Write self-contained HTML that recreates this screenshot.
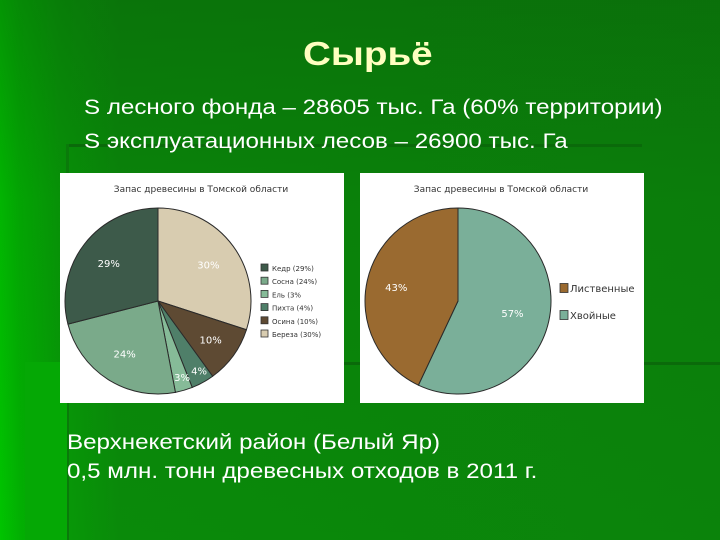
<!DOCTYPE html>
<html><head><meta charset="utf-8"><style>
html,body{margin:0;padding:0}
body{width:720px;height:540px;position:relative;overflow:hidden;font-family:"Liberation Sans","DejaVu Sans",sans-serif;
background:linear-gradient(90deg,#00c400 0px,#02b002 20px,#079a07 60px,#0a8a0a 120px,#0b830b 720px);}
.tint{position:absolute;left:0;top:0;width:720px;height:540px;background:linear-gradient(180deg,rgba(10,90,10,0.45) 0px,rgba(10,90,10,0.15) 200px,rgba(10,90,10,0) 540px)}
.t{position:absolute;white-space:nowrap;color:#fff;transform-origin:0 0}
.s{font-size:21px;transform:scaleX(1.15)}
</style></head><body>
<div class="tint"></div>
<div style="position:absolute;left:67px;top:144px;width:575px;height:3px;background:#0a6a0a"></div>
<div style="position:absolute;left:66px;top:144px;width:3px;height:396px;background:#0a7a0a"></div>
<div style="position:absolute;left:25px;top:362px;width:695px;height:3px;background:#0a6a0a"></div>
<div style="position:absolute;left:25px;top:362px;width:42px;height:178px;background:#05a805"></div>
<div class="t" style="left:303px;top:35px;font-size:33px;font-weight:bold;color:#ffffc0;transform:scaleX(1.17)">Сырьё</div>
<div class="t s" style="left:84px;top:96px">S лесного фонда – 28605 тыс. Га (60% территории)</div>
<div class="t s" style="left:84px;top:130px">S эксплуатационных лесов – 26900 тыс. Га</div>
<div class="t s" style="left:67px;top:431px">Верхнекетский район (Белый Яр)</div>
<div class="t s" style="left:67px;top:460px">0,5 млн. тонн древесных отходов в 2011 г.</div>

<svg id="c" width="720" height="540" style="position:absolute;left:0;top:0">
<rect x="60" y="173" width="284" height="230" fill="#fff"/>
<rect x="360" y="173" width="284" height="230" fill="#fff"/>
<text x="201" y="192" font-size="9" text-anchor="middle" fill="#333" font-family="DejaVu Sans, sans-serif">Запас древесины в Томской области</text>
<text x="501" y="192" font-size="9" text-anchor="middle" fill="#333" font-family="DejaVu Sans, sans-serif">Запас древесины в Томской области</text>
</svg>
<script>
const cats1=["Береза","Осина","Пихта","Ель","Сосна","Кедр"];
const vals1=[30,10,4,3,24,29];
const legend1=["Кедр (29%)","Сосна (24%)","Ель (3%","Пихта (4%)","Осина (10%)","Береза (30%)"];
const cats2=["Хвойные","Лиственные"];
const vals2=[57,43];
const legend2=["Лиственные","Хвойные"];
const NS="http://www.w3.org/2000/svg";
const svg=document.getElementById('c');
function mk(t,a){const e=document.createElementNS(NS,t);for(const k in a)e.setAttribute(k,a[k]);svg.appendChild(e);return e;}
function pie(cx,cy,r,vals,cols,names,labelR,labelOff){
  const tot=vals.reduce((a,b)=>a+b,0);let a0=0;
  vals.forEach((v,i)=>{
    const a1=a0+v/tot*2*Math.PI;
    const p=(a)=>[cx+r*Math.sin(a),cy-r*Math.cos(a)];
    const [x0,y0]=p(a0),[x1,y1]=p(a1);
    const large=(a1-a0)>Math.PI?1:0;
    const el=mk('path',{d:`M${cx},${cy}L${x0},${y0}A${r},${r} 0 ${large} 1 ${x1},${y1}Z`,fill:cols[i],stroke:'#2a2a2a','stroke-width':1});
    
    
    const am=(a0+a1)/2;const lr=r*(labelR[i]||0.65);
    const t=mk('text',{x:cx+lr*Math.sin(am)+(labelOff[i]||0),y:cy-lr*Math.cos(am)+4,'font-size':10,fill:'#fff','text-anchor':'middle','font-family':'DejaVu Sans, sans-serif'});
    t.textContent=Math.round(v/tot*100)+'%';
    
    
    a0=a1;
  });
}
const cols1=["#d8ccb0","#5e4a33","#4f7f69","#86bb98","#7aaa8a","#3d5a4a"];
pie(158,301,93,vals1,cols1,cats1,[0.67,0.7,0.85,0.85,0.67,0.67],[0,0,3,2,0,0]);
pie(458,301,93,vals2,["#7aaf99","#9a6a30"],cats2,[0.6,0.68],[0,0]);
const lc1=["#3d5a4a","#7aaa8a","#86bb98","#4f7f69","#5e4a33","#d8ccb0"];
legend1.forEach((s,i)=>{
  const y=268+i*13.2;
  const r=mk('rect',{x:261,y:y-4,width:7,height:7,fill:lc1[i],stroke:'#333','stroke-width':0.8});
  
  
  const t=mk('text',{x:272,y:y+3,'font-size':7,fill:'#333','font-family':'DejaVu Sans, sans-serif'});t.textContent=s;
  
  
});
const lc2=["#9a6a30","#7aaf99"];
legend2.forEach((s,i)=>{
  const y=288+i*27;
  const r=mk('rect',{x:560,y:y-4.5,width:8,height:9,fill:lc2[i],stroke:'#333','stroke-width':0.8});
  
  
  const t=mk('text',{x:570,y:y+4,'font-size':10,fill:'#333','font-family':'DejaVu Sans, sans-serif'});t.textContent=s;
  
  
});
</script>
</body></html>
